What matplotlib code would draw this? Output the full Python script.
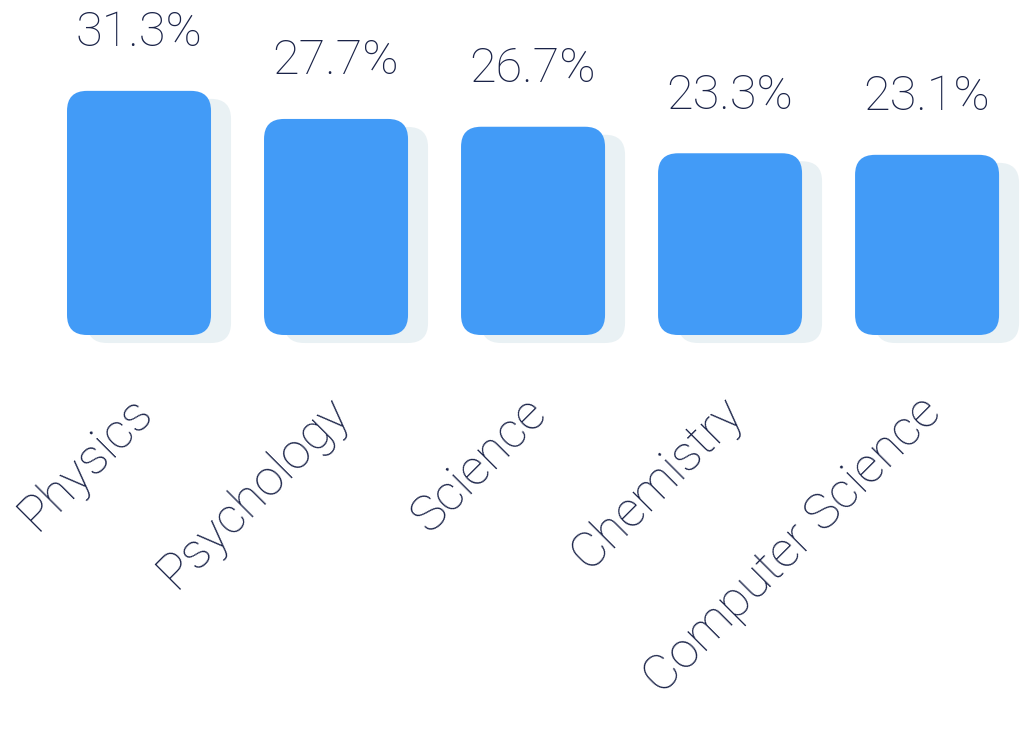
import matplotlib.pyplot as plt
from matplotlib.patches import FancyBboxPatch

categories = ["Physics", "Psychology", "Science", "Chemistry", "Computer Science"]
values = [31.3, 27.7, 26.7, 23.3, 23.1]
value_labels = ["31.3%", "27.7%", "26.7%", "23.3%", "23.1%"]

BAR = "#429BF7"
SHADOW = "#E9F1F4"
TEXT = "#1A2348"
FONT = "Roboto"

fig = plt.figure(figsize=(10.24, 7.42), dpi=100)
ax = fig.add_axes([0, 0, 1, 1])
ax.set_xlim(-0.7056, 4.492)
ax.set_ylim(-52.18, 42.95)
ax.axis("off")

# pixels per data unit, used to keep the corners round
px_x = 197.0
px_y = 7.8
aspect = px_x / px_y
width = 144 / px_x
r = 20 / px_x
dx = 20 / px_x
dy = -8 / px_y

for i, v in enumerate(values):
    sh = FancyBboxPatch((i - width / 2 + dx, dy), width, v,
                        boxstyle=f"round,pad=0,rounding_size={r}",
                        mutation_aspect=aspect, fc=SHADOW, ec="none", zorder=1)
    ax.add_patch(sh)
    bar = FancyBboxPatch((i - width / 2, 0), width, v,
                         boxstyle=f"round,pad=0,rounding_size={r}",
                         mutation_aspect=aspect, fc=BAR, ec="none", zorder=2)
    ax.add_patch(bar)
    ax.text(i, v + 5.7, value_labels[i], ha="center", va="baseline",
            fontsize=35, color=TEXT, family=FONT, fontweight="light")
    ax.text(i + 0.08, -10.2, categories[i], ha="right", va="baseline",
            rotation=45, rotation_mode="anchor",
            fontsize=36, color=TEXT, family=FONT, fontweight="light")

fig.savefig("out.png", dpi=100)
